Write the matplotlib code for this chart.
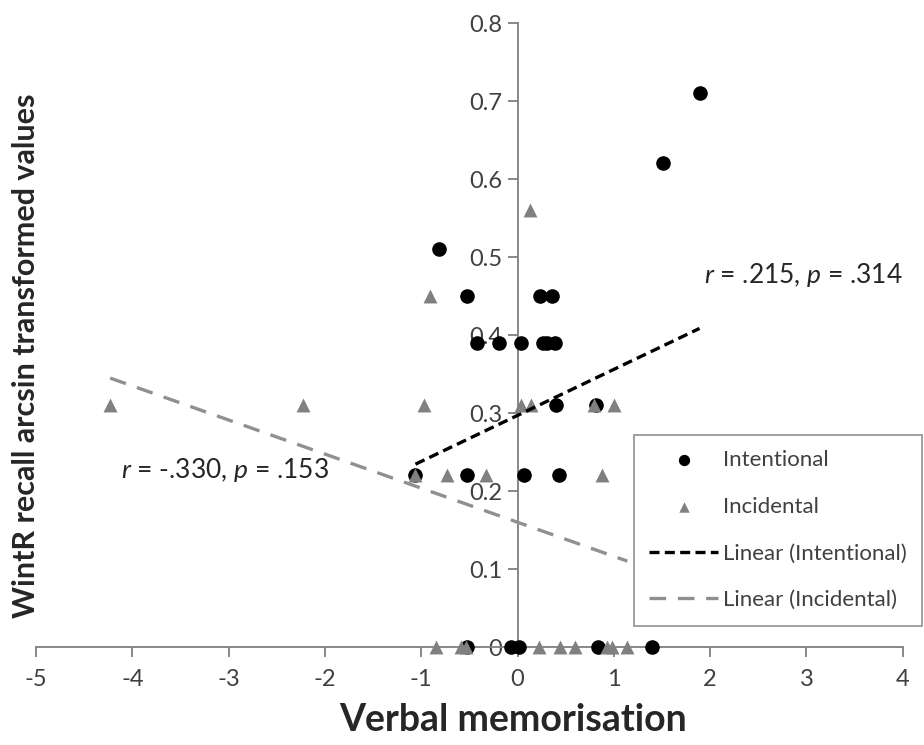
import numpy as np
import matplotlib
matplotlib.use("Agg")
import matplotlib.pyplot as plt

# values
int_x = [1.89, 1.51, -0.82, -0.53, 0.23, 0.36, -0.42, -0.19, 0.04, 0.26, 0.31,
         0.39, 0.40, 0.81, -1.06, -0.52, 0.07, 0.43, -0.52, -0.07, 0.01, 0.84, 1.40]
int_y = [0.71, 0.62, 0.51, 0.45, 0.45, 0.45, 0.39, 0.39, 0.39, 0.39, 0.39,
         0.39, 0.31, 0.31, 0.22, 0.22, 0.22, 0.22, 0.0, 0.0, 0.0, 0.0, 0.0]

inc_x = [0.125, -0.91, -4.23, -2.23, -0.97, 0.04, 0.135, 0.79, 1.0, -1.06, -0.73,
         -0.33, 0.88, -0.85, -0.59, -0.54, 0.22, 0.44, 0.6, 0.93, 0.98, 1.14]
inc_y = [0.56, 0.45, 0.31, 0.31, 0.31, 0.31, 0.31, 0.31, 0.31, 0.22, 0.22,
         0.22, 0.22, 0.0, 0.0, 0.0, 0.0, 0.0, 0.0, 0.0, 0.0, 0.0]

# trendline slope / intercept as drawn in the reference
int_trend = [0.059, 0.297]
inc_trend = [-0.0437, 0.160]

x_ticks = [-5, -4, -3, -2, -1, 0, 1, 2, 3, 4]
y_ticks = [0, 0.1, 0.2, 0.3, 0.4, 0.5, 0.6, 0.7, 0.8]
y_labels = ["0", "0.1", "0.2", "0.3", "0.4", "0.5", "0.6", "0.7", "0.8"]

plt.rcParams["font.family"] = ["Lato", "DejaVu Sans"]
plt.rcParams["mathtext.fontset"] = "custom"
plt.rcParams["mathtext.it"] = "Lato:italic"
plt.rcParams["mathtext.rm"] = "Lato"
plt.rcParams["axes.unicode_minus"] = False

axis_grey = "#7f7f7f"
text_grey = "#404040"

fig = plt.figure(figsize=(9.24, 7.45), dpi=100)
ax = fig.add_axes([0.039, 0.1315, 0.938, 0.8375])

ax.scatter(int_x, int_y, s=90, marker="o", color="black", zorder=3,
           label="Intentional", clip_on=False)
ax.scatter(inc_x, inc_y, s=100, marker="^", color="#808080", zorder=3,
           label="Incidental", clip_on=False, linewidths=0)

# linear trendlines over each series' x range, like Excel
xs = np.array([min(int_x), max(int_x)])
ax.plot(xs, int_trend[0] * xs + int_trend[1], color="black", lw=2.4,
        ls=(0, (3, 1.6)), zorder=4, label="Linear (Intentional)")
xs2 = np.array([min(inc_x), max(inc_x)])
ax.plot(xs2, inc_trend[0] * xs2 + inc_trend[1], color="#909090", lw=2.4,
        ls=(0, (5, 3.5)), zorder=4, label="Linear (Incidental)")

ax.set_xlim(-5, 4)
ax.set_ylim(0, 0.8)
ax.spines["left"].set_position(("data", 0))
ax.spines["right"].set_visible(False)
ax.spines["top"].set_visible(False)
ax.spines["left"].set_color(axis_grey)
ax.spines["bottom"].set_color(axis_grey)
ax.spines["left"].set_linewidth(1.3)
ax.spines["bottom"].set_linewidth(1.3)

ax.set_xticks(x_ticks)
ax.set_yticks(y_ticks)
ax.set_yticklabels(y_labels)
ax.tick_params(axis="both", colors=axis_grey, length=7, width=1.3,
               labelsize=17, labelcolor=text_grey)
ax.tick_params(axis="x", pad=9)
ax.tick_params(axis="y", pad=4)

fig.text(0.555, 0.033, "Verbal memorisation", ha="center", va="center",
         fontsize=27, fontweight="bold", color="#262626")
fig.text(0.028, 0.523, "WintR recall arcsin transformed values", ha="center",
         va="center", rotation=90, fontsize=22, fontweight="bold", color="#262626")

ax.text(1.94, 0.477, r"$r$ = .215, $p$ = .314", fontsize=19, color="#262626",
        ha="left", va="center")
ax.text(-4.12, 0.227, r"$r$ = -.330, $p$ = .153", fontsize=19, color="#262626",
        ha="left", va="center")

leg = ax.legend(loc="lower right", bbox_to_anchor=(1.022, 0.034),
                borderaxespad=0, fontsize=16, markerscale=0.75,
                frameon=True, fancybox=False, edgecolor=axis_grey,
                handlelength=3.1, labelspacing=1.2, borderpad=0.7,
                handletextpad=0.2)
leg.get_frame().set_linewidth(1.3)
leg.set_zorder(5)
for t in leg.get_texts():
    t.set_color(text_grey)

fig.savefig("out.png", dpi=100)
